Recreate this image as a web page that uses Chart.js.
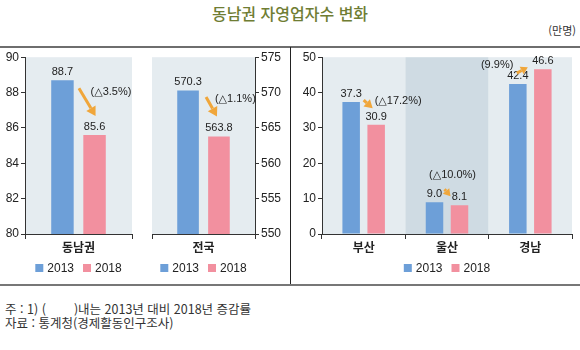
<!DOCTYPE html>
<html lang="ko">
<head>
<meta charset="utf-8">
<title>동남권 자영업자수 변화</title>
<script src="https://cdn.jsdelivr.net/npm/chart.js@4.4.1/dist/chart.umd.min.js"></script>
<style>
  body { margin: 0; background: #fff; }
  #wrap { position: relative; width: 580px; height: 350px; overflow: hidden; font-family: 'Noto Sans CJK KR', sans-serif; color: #333; }
  #titulo { position: absolute; left: 0; top: 1px; width: 580px; text-align: center; font-size: 16px; font-weight: 500; color: #6f7d33; }
  #unidad { position: absolute; right: 4px; top: 22px; font-size: 11px; color: #333; }
  .linea { position: absolute; }
  canvas { position: absolute; top: 48px; }
  #nota { position: absolute; left: 5px; top: 302px; font-size: 12.5px; line-height: 14px; color: #333; white-space: pre; }
</style>
</head>
<body>
<div id="wrap">
  <div id="titulo">동남권 자영업자수 변화</div>
  <div id="unidad">(만명)</div>
  <div class="linea" style="left:0;top:46px;width:580px;height:2px;background:#6e6e6e"></div>
  <div class="linea" style="left:290px;top:47px;width:1px;height:238px;background:#222"></div>
  <div class="linea" style="left:0;top:284px;width:580px;height:2px;background:#777"></div>
  <canvas id="graf1" width="140" height="232" style="left:0"></canvas>
  <canvas id="graf2" width="145" height="232" style="left:145px"></canvas>
  <canvas id="graf3" width="288" height="232" style="left:292px"></canvas>
  <div id="nota">주 : 1) (        )내는 2013년 대비 2018년 증감률
자료 : 통계청(경제활동인구조사)</div>
</div>
<script>
// Datos

const anios = ['2013', '2018'];
const colores = ['#6d9fd8', '#f2909f'];

const catDongnam = ['동남권'];
const dongnam2013 = [88.7];
const dongnam2018 = [85.6];
const cambioDongnam = ['(△3.5%)'];
const ticksDongnam = [80, 82, 84, 86, 88, 90];

const catJeonguk = ['전국'];
const jeonguk2013 = [570.3];
const jeonguk2018 = [563.8];
const cambioJeonguk = ['(△1.1%)'];
const ticksJeonguk = [550, 555, 560, 565, 570, 575];

const catSido = ['부산', '울산', '경남'];
const sido2013 = [37.3, 9.0, 42.4];
const sido2018 = [30.9, 8.1, 46.6];
const cambioSido = ['(△17.2%)', '(△10.0%)', '(9.9%)'];
const ticksSido = [0, 10, 20, 30, 40, 50];

Chart.defaults.font.family = "'Liberation Sans', 'Noto Sans CJK KR', sans-serif";
Chart.defaults.color = '#222';

// Flecha naranja

function flecha(ctx, x1, y1, x2, y2, cab) {
    const ang = Math.atan2(y2 - y1, x2 - x1);
    const L = cab || 8, W = L * 0.6;
    const bx = x2 - L * Math.cos(ang), by = y2 - L * Math.sin(ang);
    ctx.save();
    ctx.strokeStyle = ctx.fillStyle = '#f0a63a';
    ctx.lineWidth = 3;
    ctx.beginPath(); ctx.moveTo(x1, y1); ctx.lineTo(bx, by); ctx.stroke();
    ctx.beginPath();
    ctx.moveTo(x2, y2);
    ctx.lineTo(bx + W * Math.sin(ang), by - W * Math.cos(ang));
    ctx.lineTo(bx - W * Math.sin(ang), by + W * Math.cos(ang));
    ctx.closePath(); ctx.fill();
    ctx.restore();
}

// Plugins

const fondo = {
    id: 'fondo',
    beforeDraw(chart, args, opts) {
        const {ctx, chartArea: a, scales: {x}} = chart;
        ctx.save();
        chart.data.labels.forEach((l, i) => {
            const x0 = x.getPixelForValue(i - 0.5), x1 = x.getPixelForValue(i + 0.5);
            ctx.fillStyle = opts.colores[i % opts.colores.length];
            ctx.fillRect(x0, a.top, x1 - x0, a.bottom - a.top);
        });
        ctx.restore();
    }
};

const valores = {
    id: 'valores',
    afterDatasetsDraw(chart) {
        const {ctx} = chart;
        ctx.save();
        ctx.font = "11px 'Liberation Sans', sans-serif";
        ctx.fillStyle = '#222'; ctx.textAlign = 'center'; ctx.textBaseline = 'middle';
        chart.data.datasets.forEach((d, di) => {
            chart.getDatasetMeta(di).data.forEach((el, i) => {
                ctx.fillText(d.data[i].toFixed(1), el.x, el.y - 8);
            });
        });
        ctx.restore();
    }
};

const marcas = {
    id: 'marcas',
    afterDatasetsDraw(chart, args, opts) {
        const {ctx} = chart;
        const A = chart.getDatasetMeta(0).data, B = chart.getDatasetMeta(1).data;
        opts.pos.forEach((p, i) => {
            const a = A[i], b = B[i];
            flecha(ctx, a.x + p.sx, a.y + p.sy, b.x + p.ex, b.y + p.ey, p.cabeza);
            ctx.save();
            ctx.font = "11px 'Liberation Sans', 'DejaVu Sans', sans-serif";
            ctx.fillStyle = '#222'; ctx.textAlign = p.alinear || 'left'; ctx.textBaseline = 'middle';
            ctx.fillText(opts.textos[i], b.x + p.tx, a.y + p.ty);
            ctx.restore();
        });
    }
};

const leyenda = {
    id: 'leyenda',
    afterDraw(chart) {
        const {ctx, chartArea: a} = chart;
        ctx.save();
        ctx.font = "12px 'Liberation Sans', sans-serif";
        ctx.textBaseline = 'middle';
        const caja = 8, hueco = 4, sep = 9;
        const items = chart.data.datasets.map(d => ({
            texto: d.label, color: d.backgroundColor,
            w: caja + hueco + ctx.measureText(d.label).width
        }));
        const total = items.reduce((s, it) => s + it.w, 0) + sep * (items.length - 1);
        let x = (a.left + a.right) / 2 - total / 2;
        const y = a.bottom + 34;
        items.forEach(it => {
            ctx.fillStyle = it.color;
            ctx.fillRect(x, y - caja / 2, caja, caja);
            ctx.fillStyle = '#222';
            ctx.fillText(it.texto, x + caja + hueco, y + 0.5);
            x += it.w + sep;
        });
        ctx.restore();
    }
};

// Crear gráfico

let crearGrafico = (id, labels, v2013, v2018, ticks, cfg) => {
    return new Chart(document.getElementById(id), {
        type: 'bar',
        data: {
            labels: labels,
            datasets: [
                { label: anios[0], data: v2013, backgroundColor: colores[0] },
                { label: anios[1], data: v2018, backgroundColor: colores[1] }
            ]
        },
        options: {
            responsive: false,
            animation: false,
            events: [],
            layout: { padding: cfg.padding },
            datasets: { bar: { categoryPercentage: 0.6, barPercentage: 0.7 } },
            scales: {
                x: {
                    grid: { display: true, drawOnChartArea: false, drawTicks: true, tickLength: 5, color: '#333', offset: true },
                    border: { display: true, color: '#333' },
                    ticks: { font: { size: 12, weight: 'bold', family: "'Noto Sans CJK KR', sans-serif" }, color: '#222', padding: 1 },
                    afterFit: s => { s.height = 22; }
                },
                y: {
                    position: cfg.lado,
                    min: ticks[0],
                    max: ticks[ticks.length - 1],
                    ticks: { stepSize: ticks[1] - ticks[0], font: { size: 12 }, color: '#222', padding: 2 },
                    grid: { drawOnChartArea: false, tickLength: 4, color: '#333' },
                    border: { display: true, color: '#333' },
                    afterFit: s => { s.width = cfg.ancho; }
                }
            },
            plugins: {
                legend: { display: false },
                tooltip: { enabled: false },
                fondo: { colores: cfg.fondos },
                marcas: { textos: cfg.textos, pos: cfg.pos }
            }
        },
        plugins: [fondo, valores, marcas, leyenda]
    });
}

crearGrafico('graf1', catDongnam, dongnam2013, dongnam2018, ticksDongnam, {
    padding: { top: 8, right: 8, bottom: 24, left: 0 }, lado: 'left', ancho: 25,
    fondos: ['#e5ecf0'], textos: cambioDongnam,
    pos: [{ sx: 16.5, sy: 8, ex: 1, ey: -19, tx: -4, ty: 12, cabeza: 9 }]
});

crearGrafico('graf2', catJeonguk, jeonguk2013, jeonguk2018, ticksJeonguk, {
    padding: { top: 8, right: 0, bottom: 24, left: 7 }, lado: 'right', ancho: 35,
    fondos: ['#e5ecf0'], textos: cambioJeonguk,
    pos: [{ sx: 18, sy: 6.5, ex: -2, ey: -20, tx: -4, ty: 8.5, cabeza: 9 }]
});

crearGrafico('graf3', catSido, sido2013, sido2018, ticksSido, {
    padding: { top: 9, right: 8, bottom: 24, left: 0 }, lado: 'left', ancho: 30,
    fondos: ['#e5ecf0', '#cfdbe3'], textos: cambioSido,
    pos: [
        { sx: 12.5, sy: -2, ex: -3.5, ey: -16.5, tx: -1.5, ty: -1, cabeza: 8 },
        { sx: 10, sy: -13, ex: -9, ey: -9, tx: -7, ty: -27, alinear: 'center', cabeza: 7 },
        { sx: -1, sy: -11, ex: -15, ey: -2, tx: -29.5, ty: -19, alinear: 'right', cabeza: 7 }
    ]
});
</script>
</body>
</html>
